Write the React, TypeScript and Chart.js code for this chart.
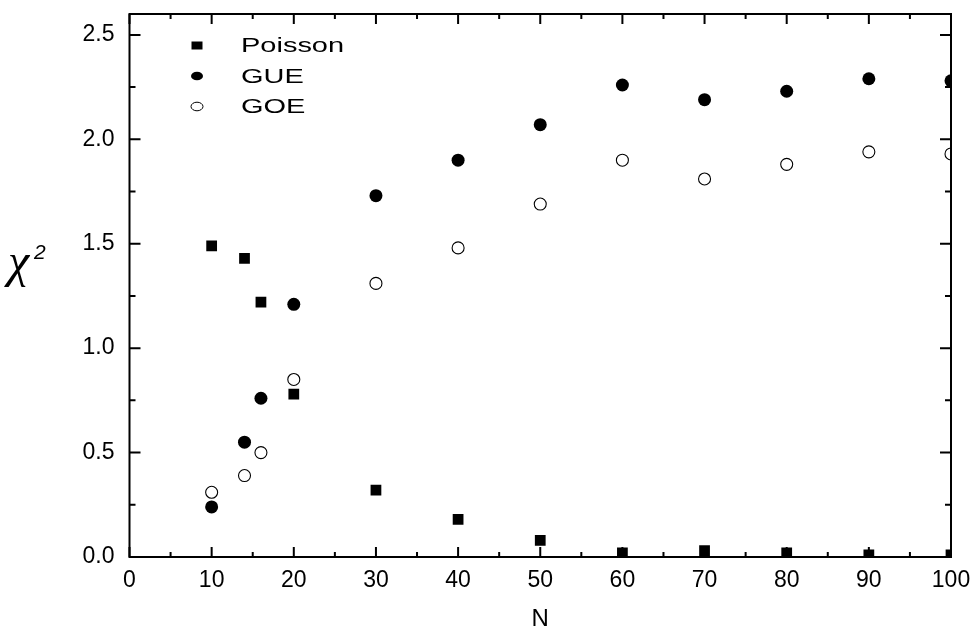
import React, { useEffect, useRef } from "react";
import { Chart, registerables } from "chart.js";

Chart.register(...registerables);

// System sizes N and the chi-square values for each statistics model
const N_VALUES = [10, 14, 16, 20, 30, 40, 50, 60, 70, 80, 90, 100];
const POISSON = [1.49, 1.43, 1.22, 0.78, 0.32, 0.18, 0.08, 0.02, 0.03, 0.02, 0.01, 0.01];
const GUE = [0.24, 0.55, 0.76, 1.21, 1.73, 1.9, 2.07, 2.26, 2.19, 2.23, 2.29, 2.28];
const GOE = [0.31, 0.39, 0.5, 0.85, 1.31, 1.48, 1.69, 1.9, 1.81, 1.88, 1.94, 1.93];
const SERIES_LABELS = ["Poisson", "GUE", "GOE"];

// Axis ranges and tick spacing
const X_RANGE = [0, 100];
const X_MAJOR_STEP = 10;
const X_MINOR_STEP = 5;
const Y_RANGE = [0, 2.6];
const Y_MAJOR_STEP = 0.5;
const Y_MINOR_STEP = 0.25;
const X_TITLE = "N";

const FONT = "'Liberation Sans', Arial, Helvetica, sans-serif";

const toPoints = (ys: number[]) => N_VALUES.map((n, i) => ({ x: n, y: ys[i] }));

// Frame, inward tick marks on all four sides, axis titles and an in-plot legend
const decorPlugin = {
  id: "decor",
  afterDatasetsDraw(chart: any) {
    const { ctx, chartArea } = chart;
    const { left, right, top, bottom } = chartArea;
    const xs = chart.scales.x;
    const ys = chart.scales.y;
    ctx.save();
    ctx.strokeStyle = "#000";
    ctx.lineWidth = 2;
    ctx.lineCap = "butt";
    ctx.strokeRect(left, top, right - left, bottom - top);

    ctx.beginPath();
    for (let v = X_RANGE[0]; v <= X_RANGE[1] + 1e-9; v += X_MINOR_STEP) {
      const px = xs.getPixelForValue(v);
      const major = Math.abs(v / X_MAJOR_STEP - Math.round(v / X_MAJOR_STEP)) < 1e-6;
      const len = major ? 10 : 5;
      ctx.moveTo(px, bottom);
      ctx.lineTo(px, bottom - len);
      ctx.moveTo(px, top);
      ctx.lineTo(px, top + len);
    }
    for (let v = Y_RANGE[0]; v <= Y_RANGE[1] + 1e-9; v += Y_MINOR_STEP) {
      const py = ys.getPixelForValue(v);
      const major = Math.abs(v / Y_MAJOR_STEP - Math.round(v / Y_MAJOR_STEP)) < 1e-6;
      const len = major ? 11 : 6;
      ctx.moveTo(left, py);
      ctx.lineTo(left + len, py);
      ctx.moveTo(right, py);
      ctx.lineTo(right - len, py);
    }
    ctx.stroke();
    ctx.restore();
  },
  afterDraw(chart: any) {
    const { ctx, chartArea } = chart;
    const { left, right, bottom } = chartArea;
    ctx.save();
    ctx.fillStyle = "#000";

    // x-axis title
    ctx.font = `24px ${FONT}`;
    ctx.textAlign = "center";
    ctx.textBaseline = "middle";
    ctx.fillText(X_TITLE, (left + right) / 2, bottom + 62);

    // y-axis title: italic chi with superscript 2
    ctx.textAlign = "left";
    ctx.textBaseline = "alphabetic";
    ctx.font = `italic 48px 'Liberation Serif', 'Times New Roman', serif`;
    ctx.fillText("\u03c7", 8, 277);
    ctx.font = `italic 21px ${FONT}`;
    ctx.fillText("2", 34, 259);

    // legend
    chart.data.datasets.forEach((ds: any, i: number) => {
      const cy = chartArea.top + 31.5 + i * 30.5;
      const mx = left + 67.5;
      ctx.beginPath();
      if (ds.pointStyle === "rect") {
        ctx.rect(mx - 5.5, cy - 4, 11, 8);
      } else {
        ctx.ellipse(mx, cy, 6, 4.3, 0, 0, Math.PI * 2);
      }
      ctx.fillStyle = ds.backgroundColor;
      ctx.fill();
      if (ds.borderWidth) {
        ctx.lineWidth = 1;
        ctx.strokeStyle = ds.borderColor;
        ctx.stroke();
      }
      ctx.save();
      ctx.translate(left + 111.5, cy);
      ctx.scale(1.38, 1);
      ctx.fillStyle = "#000";
      ctx.font = `21px ${FONT}`;
      ctx.textAlign = "left";
      ctx.textBaseline = "middle";
      ctx.fillText(ds.label, 0, 1);
      ctx.restore();
    });
    ctx.restore();
  },
};

export default function App() {
  const canvasRef = useRef<HTMLCanvasElement | null>(null);

  useEffect(() => {
    const canvas = canvasRef.current;
    if (!canvas) return;
    const tickFont = { family: FONT, size: 23 };
    const chart = new Chart(canvas, {
      type: "scatter",
      data: {
        datasets: [
          {
            label: SERIES_LABELS[0],
            data: toPoints(POISSON),
            pointStyle: "rect",
            pointRadius: 7.6,
            backgroundColor: "#000",
            borderColor: "#000",
            borderWidth: 0,
            clip: 0,
          },
          {
            label: SERIES_LABELS[1],
            data: toPoints(GUE),
            pointStyle: "circle",
            pointRadius: 6.5,
            backgroundColor: "#000",
            borderColor: "#000",
            borderWidth: 0,
            clip: 0,
          },
          {
            label: SERIES_LABELS[2],
            data: toPoints(GOE),
            pointStyle: "circle",
            pointRadius: 6,
            backgroundColor: "#fff",
            borderColor: "#000",
            borderWidth: 1.1,
            clip: 0,
          },
        ],
      },
      options: {
        responsive: false,
        animation: false,
        events: [],
        layout: { padding: { top: 14, right: 23, bottom: 0, left: 0 } },
        plugins: { legend: { display: false }, tooltip: { enabled: false } },
        scales: {
          x: {
            type: "linear",
            min: X_RANGE[0],
            max: X_RANGE[1],
            grid: { display: false, drawTicks: false },
            border: { display: false },
            ticks: {
              stepSize: X_MAJOR_STEP,
              padding: 10,
              color: "#000",
              font: tickFont,
              maxRotation: 0,
              autoSkip: false,
              includeBounds: false,
            },
            afterFit: (s: any) => {
              s.height = 72;
              s.paddingLeft = 0;
              s.paddingRight = 0;
            },
          },
          y: {
            type: "linear",
            min: Y_RANGE[0],
            max: Y_RANGE[1],
            grid: { display: false, drawTicks: false },
            border: { display: false },
            ticks: {
              stepSize: Y_MAJOR_STEP,
              padding: 15,
              color: "#000",
              font: tickFont,
              includeBounds: false,
              callback: (v: any) => Number(v).toFixed(1),
            },
            afterFit: (s: any) => {
              s.width = 129.5;
              s.paddingTop = 0;
              s.paddingBottom = 0;
            },
          },
        },
      },
      plugins: [decorPlugin],
    } as any);
    return () => chart.destroy();
  }, []);

  return (
    <div style={{ position: "absolute", left: 0, top: 0, width: 974, height: 629, background: "#fff" }}>
      <canvas ref={canvasRef} width={974} height={629} />
    </div>
  );
}
